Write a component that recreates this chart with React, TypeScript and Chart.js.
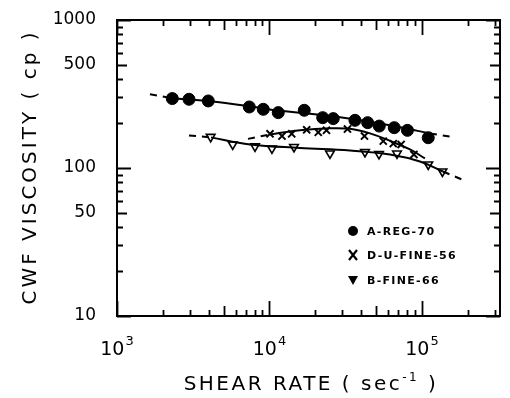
import React, { useEffect, useRef } from "react";
import { Chart, registerables } from "chart.js";

Chart.register(...registerables);

// ---- data ----
const aRegRate = [2305, 2966, 3969, 7371, 9106, 11420, 16910, 22340, 26200, 36370, 44050, 52480, 65810, 80330, 110000];
const aRegVisc = [294.5, 291.3, 283.8, 258.4, 249.2, 236.7, 245.4, 218.9, 215.6, 209.9, 202.5, 192.0, 187.3, 179.6, 160.2];

const dFineRate = [10080, 12080, 13990, 17540, 20890, 23650, 32470, 41980, 55760, 64840, 73050, 88610];
const dFineVisc = [170.1, 164.3, 170.1, 181.0, 174.1, 179.6, 183.3, 164.3, 151.9, 146.1, 144.3, 123.4];

const bFineRate = [4115, 5738, 8035, 10380, 14480, 24930, 42290, 52250, 68580, 110000, 136300];
const bFineVisc = [162.3, 144.3, 139.9, 135.6, 138.8, 125.4, 128.4, 124.4, 125.4, 105.6, 94.7];

// fitted curves (solid) and their dashed extrapolations
const aFitRate = [2295, 4071, 7449, 11720, 18430, 29000, 45600, 71750, 112800];
const aFitVisc = [296, 282.4, 261.2, 243.4, 232.3, 220.0, 205.1, 188.2, 171.4];
const aExtLoRate = [1646, 2295];
const aExtLoVisc = [315, 296];
const aExtHiRate = [112800, 164600];
const aExtHiVisc = [171.4, 161.0];

const dFitRate = [10080, 15850, 24930, 33720, 45600, 61700, 83440, 104600];
const dFitVisc = [168.7, 179.6, 185.3, 183.9, 171.4, 152.5, 133.5, 116.0];
const dExtLoRate = [7228, 10080];
const dExtLoVisc = [157.3, 168.7];

const bFitRate = [4134, 7449, 15850, 33720, 61700, 97020, 137300];
const bFitVisc = [161.0, 144.3, 136.7, 131.4, 123.4, 110.7, 94.7];
const bExtLoRate = [2966, 4134];
const bExtLoVisc = [166.1, 161.0];
const bExtHiRate = [137300, 182900];
const bExtHiVisc = [94.7, 83.6];

const seriesLabels = ["A-REG-70", "D-U-FINE-56", "B-FINE-66"];
const yTickLabels = [10, 50, 100, 500, 1000];
const xTickExponents = [3, 4, 5];
const yTitle = "CWF VISCOSITY ( cp )";
const xTitleMain = "SHEAR RATE ( sec";
const xTitleSup = "-1";
const xTitleEnd = " )";

const X_MIN = 1000;
const X_MAX = 325000;
const Y_MIN = 10;
const Y_MAX = 1000;

const pts = (xs: number[], ys: number[]) => xs.map((x, i) => ({ x, y: ys[i] }));

const FONT = "'DejaVu Sans', sans-serif";

const axesPlugin = {
  id: "paperAxes",
  afterDraw(chart: any) {
    const ctx: CanvasRenderingContext2D = chart.ctx;
    const xs = chart.scales.x;
    const ys = chart.scales.y;
    const { left, right, top, bottom } = chart.chartArea;
    ctx.save();
    ctx.strokeStyle = "#000";
    ctx.fillStyle = "#000";
    ctx.lineWidth = 2;
    ctx.lineCap = "butt";
    ctx.strokeRect(left, top, right - left, bottom - top);

    // y ticks
    const yTicks: { v: number; len: number }[] = [];
    for (let d = 10; d < Y_MAX; d *= 10) {
      for (let m = 1; m < 10; m++) {
        const v = d * m;
        yTicks.push({ v, len: m === 1 ? 14 : m === 5 ? 10 : 6 });
      }
    }
    yTicks.push({ v: Y_MAX, len: 14 });
    ctx.lineWidth = 1.8;
    yTicks.forEach(({ v, len }) => {
      const py = Math.round(ys.getPixelForValue(v)) + 0.5;
      ctx.beginPath();
      ctx.moveTo(left, py);
      ctx.lineTo(left + len, py);
      ctx.moveTo(right, py);
      ctx.lineTo(right - len, py);
      ctx.stroke();
    });

    // x ticks
    const xTicks: { v: number; len: number }[] = [];
    for (let d = 1000; d <= 100000; d *= 10) {
      for (let m = 1; m < 10; m++) {
        const v = d * m;
        if (v > X_MAX) break;
        xTicks.push({ v, len: m === 1 ? 15 : m === 5 ? 10 : 6 });
      }
    }
    xTicks.forEach(({ v, len }) => {
      const px = Math.round(xs.getPixelForValue(v)) + 0.5;
      ctx.beginPath();
      ctx.moveTo(px, bottom);
      ctx.lineTo(px, bottom - len);
      ctx.moveTo(px, top);
      ctx.lineTo(px, top + len);
      ctx.stroke();
    });

    // y tick labels
    ctx.font = `17px ${FONT}`;
    ctx.textAlign = "right";
    ctx.textBaseline = "middle";
    yTickLabels.forEach((v) => {
      ctx.fillText(String(v), left - 21, ys.getPixelForValue(v));
    });

    // x tick labels 10^n
    ctx.textBaseline = "alphabetic";
    xTickExponents.forEach((e) => {
      const px = xs.getPixelForValue(Math.pow(10, e));
      ctx.font = `19px ${FONT}`;
      const w1 = ctx.measureText("10").width;
      ctx.font = `13px ${FONT}`;
      const w2 = ctx.measureText(String(e)).width;
      const x0 = px - (w1 + w2 + 1) / 2;
      ctx.textAlign = "left";
      ctx.font = `19px ${FONT}`;
      ctx.fillText("10", x0, bottom + 39);
      ctx.font = `13px ${FONT}`;
      ctx.fillText(String(e), x0 + w1 + 1, bottom + 29);
    });

    // x title
    (ctx as any).letterSpacing = "2.5px";
    ctx.font = `20px ${FONT}`;
    const m1 = ctx.measureText(xTitleMain).width;
    const m3 = ctx.measureText(xTitleEnd).width;
    ctx.font = `12px ${FONT}`;
    const m2 = ctx.measureText(xTitleSup).width;
    const tw = m1 + m2 + m3;
    const cx = 311;
    let tx = cx - tw / 2;
    const ty = bottom + 74;
    ctx.textAlign = "left";
    ctx.font = `20px ${FONT}`;
    ctx.fillText(xTitleMain, tx, ty);
    tx += m1;
    ctx.font = `12px ${FONT}`;
    ctx.fillText(xTitleSup, tx, ty - 9);
    tx += m2;
    ctx.font = `20px ${FONT}`;
    ctx.fillText(xTitleEnd, tx, ty);

    // y title
    ctx.save();
    ctx.translate(31, 167);
    ctx.rotate(-Math.PI / 2);
    ctx.font = `20px ${FONT}`;
    (ctx as any).letterSpacing = "3px";
    ctx.textAlign = "center";
    ctx.textBaseline = "middle";
    ctx.fillText(yTitle, 0, 0);
    ctx.restore();

    // legend
    const legendX = 353;
    const legendRows = [231, 255, 280];
    const markerSets = chart.data.datasets.filter((d: any) => d.isMarker);
    markerSets.forEach((ds: any, i: number) => {
      const y = legendRows[i];
      ctx.save();
      ctx.lineWidth = 2.2;
      if (ds.pointStyle === "circle") {
        ctx.beginPath();
        ctx.arc(legendX, y, 5, 0, Math.PI * 2);
        ctx.fill();
      } else if (ds.pointStyle === "crossRot") {
        ctx.beginPath();
        ctx.moveTo(legendX - 4, y - 5);
        ctx.lineTo(legendX + 4, y + 5);
        ctx.moveTo(legendX + 4, y - 5);
        ctx.lineTo(legendX - 4, y + 5);
        ctx.stroke();
      } else {
        ctx.beginPath();
        ctx.moveTo(legendX - 5, y - 4);
        ctx.lineTo(legendX + 5, y - 4);
        ctx.lineTo(legendX, y + 5);
        ctx.closePath();
        ctx.fill();
      }
      ctx.restore();
      ctx.font = `bold 11px ${FONT}`;
      (ctx as any).letterSpacing = "1.3px";
      ctx.textAlign = "left";
      ctx.textBaseline = "middle";
      ctx.fillText(ds.label, legendX + 14, y + 1);
    });
    ctx.restore();
  },
};

export default function App() {
  const ref = useRef<HTMLCanvasElement | null>(null);
  useEffect(() => {
    if (!ref.current) return;
    const line = (xs: number[], ys: number[], dashed: boolean) => ({
      type: "scatter" as const,
      data: pts(xs, ys),
      showLine: true,
      borderColor: "#000",
      borderWidth: 2,
      borderDash: dashed ? [7, 6] : [],
      pointRadius: 0,
      fill: false,
      tension: 0.4,
      isMarker: false,
    });
    const chart = new Chart(ref.current, {
      type: "scatter",
      data: {
        datasets: [
          line(aFitRate, aFitVisc, false),
          line(aExtLoRate, aExtLoVisc, true),
          line(aExtHiRate, aExtHiVisc, true),
          line(dFitRate, dFitVisc, false),
          line(dExtLoRate, dExtLoVisc, true),
          line(bFitRate, bFitVisc, false),
          line(bExtLoRate, bExtLoVisc, true),
          line(bExtHiRate, bExtHiVisc, true),
          {
            label: seriesLabels[0],
            data: pts(aRegRate, aRegVisc),
            pointStyle: "circle",
            pointRadius: 6,
            backgroundColor: "#000",
            borderColor: "#000",
            borderWidth: 1,
            isMarker: true,
          },
          {
            label: seriesLabels[1],
            data: pts(dFineRate, dFineVisc),
            pointStyle: "crossRot",
            pointRadius: 5,
            backgroundColor: "#000",
            borderColor: "#000",
            borderWidth: 2,
            isMarker: true,
          },
          {
            label: seriesLabels[2],
            data: pts(bFineRate, bFineVisc),
            pointStyle: "triangle",
            rotation: 180,
            pointRadius: 5,
            backgroundColor: "#fff",
            borderColor: "#000",
            borderWidth: 1.6,
            isMarker: true,
          },
        ] as any,
      },
      options: {
        animation: false,
        responsive: false,
        maintainAspectRatio: false,
        devicePixelRatio: 1,
        layout: { padding: { left: 117, right: 10, top: 20, bottom: 82 } },
        plugins: { legend: { display: false }, tooltip: { enabled: false } },
        scales: {
          x: { type: "logarithmic", min: X_MIN, max: X_MAX, display: false },
          y: { type: "logarithmic", min: Y_MIN, max: Y_MAX, display: false },
        },
      },
      plugins: [axesPlugin],
    });
    return () => chart.destroy();
  }, []);
  return (
    <div style={{ position: "absolute", left: 0, top: 0, width: 510, height: 398, background: "#fff" }}>
      <canvas ref={ref} width={510} height={398} style={{ width: 510, height: 398 }} />
    </div>
  );
}
